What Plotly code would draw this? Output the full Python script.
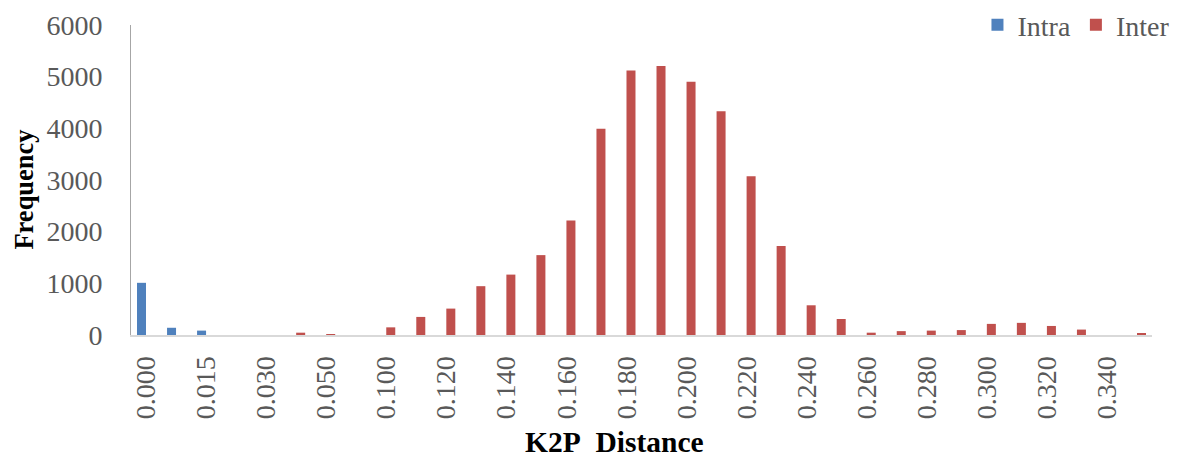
import plotly.graph_objects as go

categories = ["0.000", "0.010", "0.015", "0.020", "0.030", "0.040", "0.050", "0.090",
              "0.100", "0.110", "0.120", "0.130", "0.140", "0.150", "0.160", "0.170",
              "0.180", "0.190", "0.200", "0.210", "0.220", "0.230", "0.240", "0.250",
              "0.260", "0.270", "0.280", "0.290", "0.300", "0.310", "0.320", "0.330",
              "0.340", "0.350"]

intra = [1010, 140, 85, 0, 0, 0, 0, 0,
         0, 0, 0, 0, 0, 0, 0, 0,
         0, 0, 0, 0, 0, 0, 0, 0,
         0, 0, 0, 0, 0, 0, 0, 0,
         0, 0]

inter = [0, 0, 0, 0, 0, 45, 18, 0,
         148, 350, 511, 945, 1169, 1546, 2216, 3990,
         5120, 5205, 4900, 4330, 3075, 1724, 575, 310,
         45, 75, 85, 95, 215, 235, 175, 105,
         0, 30]

tick_labels = ["0.000", "0.015", "0.030", "0.050", "0.100", "0.120", "0.140", "0.160",
               "0.180", "0.200", "0.220", "0.240", "0.260", "0.280", "0.300", "0.320", "0.340"]
tick_vals = [categories[i] for i in range(0, len(categories), 2)]

FONT = "Liberation Serif, Times New Roman, serif"

fig = go.Figure()
fig.add_trace(go.Bar(x=categories, y=intra, name="Intra", marker=dict(color="#4F81BD", line=dict(width=0))))
fig.add_trace(go.Bar(x=categories, y=inter, name="Inter", marker=dict(color="#C0504D", line=dict(width=0))))

fig.update_layout(
    width=1170, height=451,
    margin=dict(l=123, r=26, t=17, b=124, autoexpand=False),
    paper_bgcolor="white", plot_bgcolor="white",
    barmode="group", bargap=0.4, bargroupgap=0,
    font=dict(family=FONT, color="#595959", size=28),
    showlegend=True,
    legend=dict(orientation="h", x=1.022, xanchor="right", y=1.0, yanchor="middle",
                font=dict(size=28, color="#595959"), itemwidth=30, tracegroupgap=0,
                bgcolor="rgba(0,0,0,0)"),
    xaxis=dict(type="category", tickmode="array", tickvals=tick_vals, ticktext=tick_labels,
               tickangle=-90, showline=True, linecolor="#D9D9D9", linewidth=2,
               ticks="", showgrid=False, ticklabelstandoff=8,
               tickfont=dict(size=28, color="#595959")),
    yaxis=dict(range=[0, 6000], dtick=1000, showline=True, linecolor="#A6A6A6", linewidth=1,
               ticks="", showgrid=False, zeroline=False, ticklabelstandoff=22,
               tickfont=dict(size=28, color="#595959")),
    annotations=[
        dict(text="<b>Frequency</b>", xref="paper", yref="paper", x=-0.1045, y=0.47,
             xanchor="center", yanchor="middle", textangle=-90, showarrow=False,
             font=dict(family=FONT, size=26.5, color="black")),
        dict(text="<b>K2P\u00a0 Distance</b>", xref="paper", yref="paper", x=0.474, y=-0.345,
             xanchor="center", yanchor="middle", showarrow=False,
             font=dict(family=FONT, size=29.5, color="black")),
    ],
)

fig.write_html("out.html")
